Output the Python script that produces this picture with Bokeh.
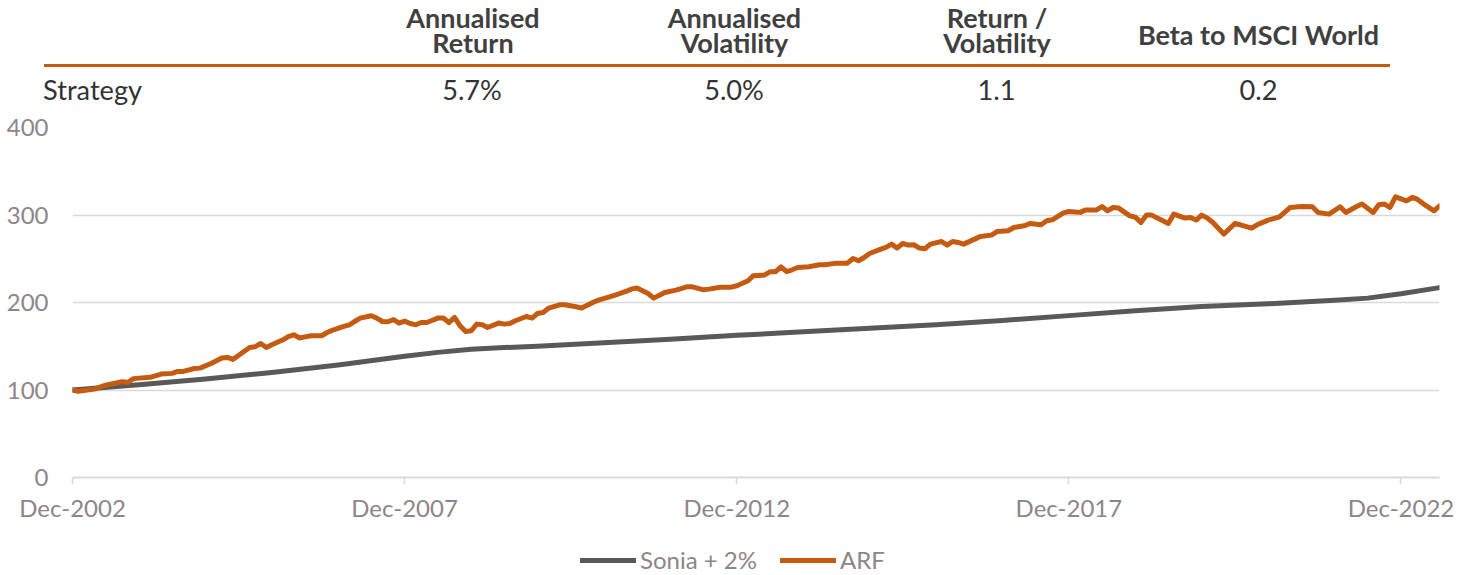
import pandas as pd
from bokeh.plotting import figure
from bokeh.layouts import column
from bokeh.models import (Range1d, FixedTicker, DatetimeTickFormatter, Legend, LegendItem,
                          ColumnDataSource, Div)
from bokeh.embed import file_html
from bokeh.resources import INLINE

# ---------------- data ----------------
start_month = "2002-12-01"
end_month = "2023-07-01"

# months after Dec-2002, and index values
arf_month = [0, 1, 2, 4, 6, 9, 10, 11, 14, 16, 18, 19, 20, 22, 23, 25, 27, 28, 29, 31, 32, 33, 34, 35,
             36, 38, 39, 40, 41, 43, 45, 46, 47, 49, 50, 51, 52, 54, 55, 56, 57, 58, 59, 60, 61, 62,
             63, 64, 66, 67, 68, 69, 70, 71, 72, 73, 74, 75, 77, 78, 79, 80, 82, 83, 84, 85, 86, 88,
             89, 91, 92, 94, 95, 97, 98, 100, 101, 102, 104, 105, 107, 109, 111, 112, 114, 115, 117,
             119, 120, 122, 123, 125, 126, 127, 128, 129, 130, 131, 133, 135, 136, 138, 140, 141,
             142, 143, 144, 146, 147, 148, 149, 150, 151, 152, 153, 154, 155, 157, 158, 159, 160,
             161, 163, 164, 166, 167, 169, 170, 172, 173, 175, 176, 177, 179, 180, 181, 182, 183,
             185, 186, 187, 188, 189, 191, 192, 193, 194, 195, 196, 198, 199, 201, 202, 203, 204,
             205, 206, 208, 210, 211, 213, 214, 216, 218, 219, 220, 222, 224, 225, 227, 229, 230,
             232, 233, 235, 236, 237, 238, 239, 241, 242, 243, 244, 246, 247]
arf_value = [100, 98.5, 99.5, 101, 105.5, 109.5, 108.6, 113, 114.5, 118.2, 119, 121.2, 121.2, 124.6,
             125, 130.3, 136.5, 137.2, 134.9, 144, 148.6, 149.5, 153.1, 148.6, 151.7, 157.4, 161.1,
             163.1, 159.5, 161.9, 162, 165.7, 168.4, 172.6, 174.5, 178.3, 182.2, 184.8, 182.2,
             178.3, 178, 180.5, 176.5, 178.7, 176, 174.5, 177.1, 177.1, 182.2, 182.2, 177.1, 182.9,
             173.4, 166.9, 167.7, 175.3, 174.5, 171.4, 176.5, 175.3, 176, 179.1, 184, 182.2, 187.4,
             188.6, 193.6, 197.4, 197.4, 195.1, 193.6, 200, 202.7, 206.5, 208.5, 212.6, 215.3,
             216.5, 210.3, 205, 211.4, 214.2, 217.9, 217.9, 214.5, 215.3, 217.5, 217.5, 219.1,
             224.8, 230.5, 231.3, 235.1, 235.1, 240.8, 235.4, 237.4, 240, 240.8, 243.1, 243.1, 245,
             245, 250.3, 247.7, 251.4, 256, 261, 262.9, 266.7, 262.2, 267.4, 265.6, 266, 262.2,
             261.5, 266.7, 269.7, 265.6, 269.7, 268.6, 266.7, 272.4, 275.4, 277, 281.1, 282, 285.7,
             287.7, 290.3, 288.8, 293.4, 294.5, 302.5, 304, 303.5, 303, 305.6, 305.6, 309.7, 304.8,
             308.6, 307.9, 299, 297.5, 291.4, 299.9, 299.9, 296.5, 290.3, 301, 296.5, 297.1, 294.2,
             299.9, 296.5, 291.4, 278.2, 290.3, 288.8, 285, 288.8, 294.2, 297.9, 302.9, 308.6,
             309.7, 309.4, 302.9, 301, 309.4, 302.9, 309.7, 312.5, 302.9, 311.7, 312.5, 308.6,
             320.8, 316.2, 320, 318.1, 313.1, 304.8, 310.5]

sonia_month = [0, 12, 24, 36, 48, 60, 66, 72, 78, 84, 96, 108, 120, 132, 144, 156, 168, 180, 192,
               204, 216, 228, 234, 240, 247]
sonia_value = [100, 106, 112.5, 120, 128.5, 138.5, 143, 146.5, 148.5, 150, 154, 158, 162.5, 166.5,
               170.5, 174.5, 179.5, 185, 190.5, 195.5, 198.5, 202.5, 205, 210, 217]

y_ticks = [0, 100, 200, 300, 400]
x_tick_dates = ["2002-12-01", "2007-12-01", "2012-12-01", "2017-12-01", "2022-12-01"]

series_names = ["Sonia + 2%", "ARF"]

header_cols = [["Annualised", "Return"], ["Annualised", "Volatility"], ["Return /", "Volatility"],
               ["Beta to MSCI World"]]
row_label = "Strategy"
row_values = ["5.7%", "5.0%", "1.1", "0.2"]

# ---------------- styles ----------------
ORANGE = "#C55A11"
GREY_LINE = "#595959"
GRID = "#D9D9D9"
TICK_TXT = "#8E8589"
FONT = "Lato"
W, H = 1472, 575
HEAD_H = 110
BORDER_L, BORDER_R = 72, 33
MAIN_H = (127 - HEAD_H) + 350 + 50
LEG_H = H - HEAD_H - MAIN_H

base = pd.Timestamp(start_month)
def to_dates(months):
    return [base + pd.DateOffset(months=int(m)) for m in months]

# ---------------- header table (HTML) ----------------
col_cx = [473, 734.5, 997, 1258.5]
val_cx = [472, 734, 996.5, 1258.5]
HFS, RFS = 27, 27.2
LINE_STEP = 25.6

def span(lines, cx, baseline, fs, bold, color, align="center", lh=LINE_STEP):
    top = baseline - ((lh - 1.2 * fs) / 2 + 0.987 * fs)
    tr = "transform:translateX(-50%);" if align == "center" else ""
    return (f'<span style="position:absolute;left:{cx}px;top:{top:.1f}px;{tr}'
            f'font-family:{FONT};font-size:{fs}px;font-weight:{"700" if bold else "400"};'
            f'line-height:{lh}px;text-align:{align};white-space:nowrap;color:{color};">'
            + "<br>".join(lines) + "</span>")

parts = []
for cx, lines in zip(col_cx, header_cols):
    bl = 27.7 if len(lines) == 2 else 45
    parts.append(span(lines, cx, bl, HFS, True, "#404040"))
parts.append(f'<div style="position:absolute;left:44px;top:64px;width:1346px;height:2.7px;'
             f'background:{ORANGE};"></div>')
parts.append(span([row_label], 43, 100, RFS, False, "#333333", align="left", lh=30))
for cx, txt in zip(val_cx, row_values):
    parts.append(span([txt], cx, 100, RFS, False, "#333333", lh=30))
html = (f'<div style="position:relative;width:{W}px;height:{HEAD_H}px;margin:0;padding:0;">'
        + "".join(parts) + "</div>")
header = Div(text=html, width=W, height=HEAD_H, margin=0)

# ---------------- chart ----------------
fig = figure(width=W, height=MAIN_H, x_axis_type="datetime",
             x_range=Range1d(pd.Timestamp(start_month), pd.Timestamp(end_month)),
             y_range=Range1d(0, 400), toolbar_location=None, output_backend="svg",
             min_border_left=BORDER_L, min_border_right=BORDER_R,
             min_border_top=127 - HEAD_H, min_border_bottom=50)
fig.outline_line_color = None
fig.xgrid.visible = False
fig.ygrid.grid_line_color = GRID
fig.ygrid.grid_line_width = 1.5

fig.yaxis.ticker = FixedTicker(ticks=y_ticks)
fig.yaxis.axis_line_color = None
fig.yaxis.major_tick_line_color = None
fig.yaxis.minor_tick_line_color = None
fig.yaxis.major_label_standoff = 18
fig.yaxis.major_label_text_font = FONT
fig.yaxis.major_label_text_font_size = "24px"
fig.yaxis.major_label_text_color = TICK_TXT

tick_ms = [pd.Timestamp(d).value / 1e6 for d in x_tick_dates]
fig.xaxis.ticker = FixedTicker(ticks=tick_ms)
fmt = "%b-%Y"
fig.xaxis.formatter = DatetimeTickFormatter(years=fmt, months=fmt, days=fmt, hours=fmt,
                                            minutes=fmt, seconds=fmt, milliseconds=fmt,
                                            minsec=fmt, hourmin=fmt)
fig.xaxis.axis_line_color = GRID
fig.xaxis.axis_line_width = 2
fig.xaxis.major_tick_line_color = GRID
fig.xaxis.major_tick_line_width = 1.5
fig.xaxis.major_tick_out = 7
fig.xaxis.major_tick_in = 0
fig.xaxis.minor_tick_line_color = None
fig.xaxis.major_label_standoff = 8
fig.xaxis.major_label_text_font = FONT
fig.xaxis.major_label_text_font_size = "24px"
fig.xaxis.major_label_text_color = TICK_TXT

src_s = ColumnDataSource(dict(x=to_dates(sonia_month), y=sonia_value))
src_a = ColumnDataSource(dict(x=to_dates(arf_month), y=arf_value))
line_styles = [dict(line_color=GREY_LINE, line_width=5, line_join="round", line_cap="round"),
               dict(line_color=ORANGE, line_width=5, line_join="round", line_cap="round")]
fig.line("x", "y", source=src_s, **line_styles[0])
fig.line("x", "y", source=src_a, **line_styles[1])

# ---------------- legend strip (same series and line styles as the chart) ----------------
leg = figure(width=W, height=LEG_H, x_range=Range1d(0, 1), y_range=Range1d(0, 1),
             x_axis_type=None, y_axis_type=None, toolbar_location=None,
             output_backend="svg", min_border_left=BORDER_L, min_border_right=BORDER_R,
             min_border_top=0, min_border_bottom=0, outline_line_color=None)
leg.grid.visible = False
lr = [leg.line("x", "y", source=s, **st) for s, st in zip([src_s, src_a], line_styles)]
legend = Legend(items=[LegendItem(label=n, renderers=[r]) for n, r in zip(series_names, lr)],
                orientation="horizontal", location=(508, 1))
legend.border_line_color = None
legend.background_fill_alpha = 0
legend.label_text_font = FONT
legend.label_text_font_size = "24px"
legend.label_text_color = TICK_TXT
legend.glyph_width = 56
legend.glyph_height = 20
legend.label_height = 20
legend.label_standoff = 4
legend.spacing = 23
legend.padding = 0
legend.margin = 0
leg.add_layout(legend)

p = column(header, fig, leg, spacing=0)
open("out.html", "w").write(file_html(p, INLINE))
